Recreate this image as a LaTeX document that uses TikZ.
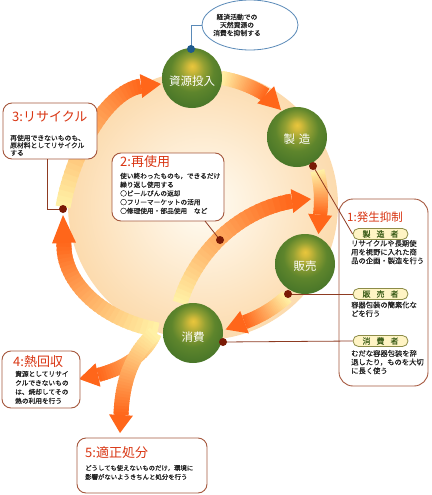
\documentclass[tikz,border=0pt]{standalone}
\usepackage{fontspec}
\newfontfamily\jp{Noto Sans CJK JP}
\newfontfamily\jpb{Noto Sans CJK JP}[FakeBold=0.5]
\usetikzlibrary{shapes.geometric,calc}
\definecolor{titlec}{HTML}{D93512}
\definecolor{boxc}{HTML}{A5583E}
\definecolor{linec}{HTML}{8E3B22}
\definecolor{dotc}{HTML}{7A1A05}
\definecolor{ellc}{HTML}{5A8AB8}
\definecolor{bdotc}{HTML}{1E5A8C}
\definecolor{pillf}{HTML}{FFF4C4}
\definecolor{pilld}{HTML}{8C8C48}
\definecolor{pillt}{HTML}{3E5E1A}
\definecolor{textc}{HTML}{222222}
\definecolor{tailc}{HTML}{FFF3A8}
\definecolor{headc}{HTML}{FF661A}
\definecolor{peach}{HTML}{FCDBAE}
\definecolor{discin}{HTML}{FFFCF4}
\definecolor{bhl}{HTML}{E8C63C}
\definecolor{bh2}{HTML}{D6BC3A}
\definecolor{bmid}{HTML}{93A033}
\definecolor{bm2}{HTML}{5E852C}
\definecolor{bg}{HTML}{4A7729}
\definecolor{bedge}{HTML}{436F27}
\pgfdeclareradialshading{gballsh}{\pgfpoint{0bp}{10bp}}{color(0bp)=(bhl); color(3bp)=(bh2); color(10bp)=(bmid); color(18bp)=(bm2); color(28bp)=(bg); color(40bp)=(bedge); color(50bp)=(bedge)}
\newcommand\GradArrow[6]{%
  \foreach \i in {0,...,29}{%
    \pgfmathsetmacro\ta{\i/30}%
    \pgfmathsetmacro\tb{min(1,(\i+1.5)/30)}%
    \pgfmathtruncatemacro\pc{round(100*(\i+0.5)/30)}%
    \path #1 .. controls #2 and #3 .. #4 coordinate[pos=\ta] (ga) coordinate[pos=\tb] (gb);%
    \draw[line width=#6, headc!\pc!tailc] (ga) -- (gb);%
  }%
  \fill[headc] ($#4!12pt!90:#5$) -- #5 -- ($#4!12pt!-90:#5$) -- cycle;%
}
\begin{document}
\begin{tikzpicture}[x=1pt,y=-1pt,
  box/.style={draw=boxc, line width=0.9pt, fill=white, rounded corners=9pt, inner sep=0pt},
  ttl/.style={font=\jp\fontsize{13}{13}\selectfont, text=titlec, anchor=west, inner sep=0pt},
  txt/.style={text=textc, anchor=north west, align=left, inner sep=0pt},
  pill/.style={draw=pilld, line width=0.8pt, fill=pillf, rounded corners=5.5pt, minimum width=55pt, minimum height=11pt, inner sep=0pt, font=\jpb\fontsize{8}{8}\selectfont, text=pillt},
  ball/.style={circle, minimum size=60pt, inner sep=0pt, shade, shading=gballsh},
  balltxt/.style={text=white, font=\jp\fontsize{11.5}{11.5}\selectfont, inner sep=0pt},
  conn/.style={draw=linec, line width=0.8pt},
  dotst/.style={circle, fill=dotc, minimum size=8pt, inner sep=0pt},
]
\useasboundingbox (0,0) rectangle (431,495);
% background glow
\shade[inner color=discin, outer color=peach] (203,205) circle[radius=135];
% arrows
\GradArrow{(158,330)}{(100,320)}{(62,280)}{(64,243)}{(63,215)}{15pt}
\GradArrow{(155,333)}{(145,355)}{(125,368)}{(98,375)}{(79,379)}{14pt}
\GradArrow{(155,333)}{(130,355)}{(122,385)}{(121,415)}{(120,433)}{15pt}
\GradArrow{(63,207)}{(72,155)}{(105,92)}{(141,86)}{(161,84)}{15pt}
\GradArrow{(180,303)}{(192,262)}{(230,212)}{(292,201)}{(311,199)}{15pt}
\GradArrow{(221.5,77.9)}{(237.2,80.7)}{(252.2,86.4)}{(265.7,94.8)}{(281,110)}{14pt}
\GradArrow{(317.4,170.7)}{(321.0,185.1)}{(321.9,200.0)}{(320.1,214.7)}{(318.5,234)}{14pt}
\GradArrow{(287.0,296.6)}{(274.6,307.8)}{(260.2,316.5)}{(244.5,322.2)}{(225.7,329.5)}{14pt}
% green circles
\node[ball] (c1) at (192,78) {};
\node[ball] (c2) at (297,137) {};
\node[ball] (c3) at (305,264) {};
\node[ball] (c4) at (193,333) {};
\node[balltxt] (c1t) at ($(c1)+(0,3)$) {資源投入};
\node[balltxt] (c2t) at ($(c2)+(0,2)$) {製\hspace{4pt}造};
\node[balltxt] (c3t) at ($(c3)+(0,2)$) {販売};
\node[balltxt] (c4t) at ($(c4)+(0,4)$) {消費};
% ellipse note
\node[ellipse, draw=ellc, line width=0.8pt, fill=white, minimum width=96pt, minimum height=50pt, inner sep=0pt] (ell) at (250,25) {};
\node[align=center, inner sep=0pt, text=textc, font=\jpb\fontsize{6.8}{8}\selectfont] (ellt) at (237,25) {経済活動での\\天然資源の\\消費を抑制する};
% boxes
\node[box, rounded corners=14pt, minimum width=89pt, minimum height=187pt] (b1) at (383.5,292.5) {};
\node[box, minimum width=112pt, minimum height=68pt] (b2) at (168,187) {};
\node[box, minimum width=94pt, minimum height=56pt] (b3) at (50,131) {};
\node[box, minimum width=78pt, minimum height=57pt] (b4) at (41,379.5) {};
\node[box, minimum width=130pt, minimum height=55pt] (b5) at (142,465.5) {};
% pills
\node[pill] (p1) at (380.5,234) {製\hspace{6pt}造\hspace{6pt}者};
\node[pill] (p2) at (380.5,294) {販\hspace{6pt}売\hspace{6pt}者};
\node[pill] (p3) at (380.5,341) {消\hspace{6pt}費\hspace{6pt}者};
% coordinates of dots and connector ends
\coordinate (dA) at (313,166);
\coordinate (dB) at (288,294);
\coordinate (dC) at (223,342);
\coordinate (dR) at (220,240);
\coordinate (dD) at (63,209);
\coordinate (dT) at (191,49);
\coordinate (b2c) at (205,221);
\coordinate (b3c) at (47,159);
% connectors
\draw[conn] (dA) -- (p1.west);
\draw[conn] (dB) -- (p2.west);
\draw[conn] (dC) -- (p3.west);
\draw[conn] (b2c) -- (dR);
\draw[conn] (b3c) |- (dD);
\draw[draw=ellc, line width=0.8pt] (dT) |- (ell.west);
% dots
\node[dotst] (nA) at (dA) {};
\node[dotst] (nB) at (dB) {};
\node[dotst] (nC) at (dC) {};
\node[dotst] (nR) at (dR) {};
\node[dotst] (nD) at (dD) {};
\node[dotst, fill=bdotc] (nT) at (dT) {};
% titles
\node[ttl, font=\jp\fontsize{11.5}{11.5}\selectfont] (t1) at (347,217) {1:発生抑制};
\node[ttl] (t2) at (120,162) {2:再使用};
\node[ttl] (t3) at (12,117) {3:リサイクル};
\node[ttl] (t4) at (13,362) {4:熱回収};
\node[ttl] (t5) at (85,453) {5:適正処分};
% texts
\node[txt, font=\jpb\fontsize{7.3}{8.7}\selectfont] (x1a) at (351,239.8) {リサイクルや長期使\\用を視野に入れた商\\品の企画・製造を行う};
\node[txt, font=\jpb\fontsize{7.3}{8.7}\selectfont] (x1b) at (351,301.3) {容器包装の簡素化な\\どを行う};
\node[txt, font=\jpb\fontsize{7.3}{8.7}\selectfont] (x1c) at (351,349.8) {むだな容器包装を辞\\退したり，ものを大切\\に長く使う};
\node[txt, font=\jpb\fontsize{6.7}{8.75}\selectfont] (x2) at (120,172.6) {使い終わったものも，できるだけ\\繰り返し使用する\\○ビールびんの返却\\○フリーマーケットの活用\\○修理使用・部品使用　など};
\node[txt, font=\jpb\fontsize{6.8}{7.4}\selectfont] (x3) at (10,134.6) {再使用できないものも、\\原材料としてリサイクル\\する};
\node[txt, font=\jpb\fontsize{6.7}{9}\selectfont] (x4) at (15,370.6) {資源としてリサイ\\クルできないもの\\は、焼却してその\\熱の利用を行う};
\node[txt, font=\jpb\fontsize{6.4}{9}\selectfont] (x5) at (85,464.8) {どうしても使えないものだけ，環境に\\影響がないようきちんと処分を行う};
\end{tikzpicture}
\end{document}
